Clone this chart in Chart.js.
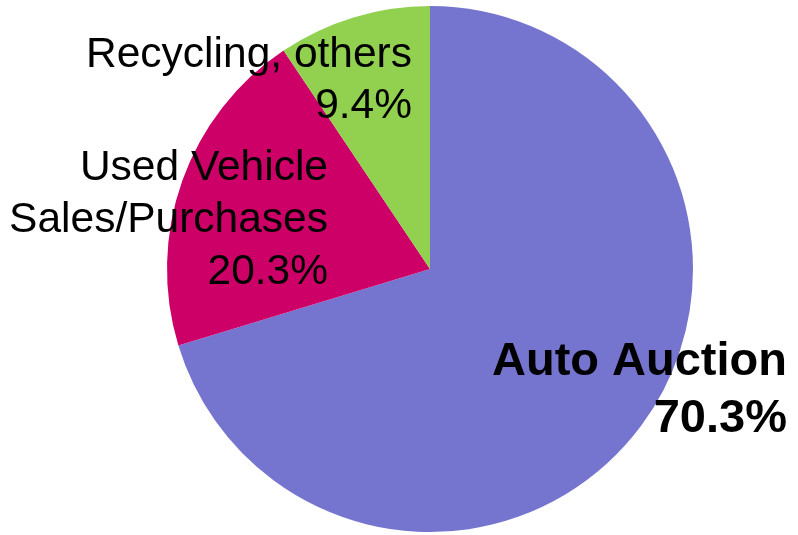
<!DOCTYPE html>
<html>
<head>
<meta charset="utf-8">
<script src="https://cdn.jsdelivr.net/npm/chart.js@4.4.0/dist/chart.umd.min.js"></script>
<style>
  html, body { margin: 0; padding: 0; background: #fff; }
  canvas { display: block; }
</style>
</head>
<body>
<canvas id="pie" width="798" height="535"></canvas>
<script>
let categories = ["Auto Auction", "Used Vehicle Sales/Purchases", "Recycling, others"];
let shares = [70.3, 20.3, 9.4];
let colors = ["#7575D0", "#CC0066", "#92D050"];

// label lines per slice, as printed in the picture
let labelLines = [
    ["Auto Auction", "70.3%"],
    ["Used Vehicle", "Sales/Purchases", "20.3%"],
    ["Recycling, others", "9.4%"],
];

// right edge x, first baseline y, line step, bold
let labelSpots = [
    { x: 787, y: 375, step: 57, bold: true, size: 47 },
    { x: 328, y: 180, step: 52, bold: false, size: 42.5 },
    { x: 412, y: 67, step: 51, bold: false, size: 42.5 },
];

let sliceLabels = {
    id: "sliceLabels",
    afterDatasetsDraw(chart) {
        let ctx = chart.ctx;
        ctx.save();
        ctx.fillStyle = "#000";
        ctx.textAlign = "right";
        ctx.textBaseline = "alphabetic";
        labelLines.forEach((lines, i) => {
            let s = labelSpots[i];
            ctx.font = (s.bold ? "bold " : "") + s.size + "px 'Liberation Sans', Arial, sans-serif";
            lines.forEach((t, j) => ctx.fillText(t, s.x, s.y + j * s.step));
        });
        ctx.restore();
    }
};

let pieChart = new Chart(document.getElementById("pie"), {
    type: "pie",
    data: {
        labels: categories,
        datasets: [
            {
                data: shares,
                backgroundColor: colors,
                borderWidth: 0,
            },
        ],
    },
    options: {
        responsive: false,
        animation: false,
        layout: {
            padding: { top: 6, bottom: 3, left: 167, right: 105 },
        },
        plugins: {
            legend: { display: false },
            tooltip: { enabled: false },
        },
    },
    plugins: [sliceLabels],
});
</script>
</body>
</html>
